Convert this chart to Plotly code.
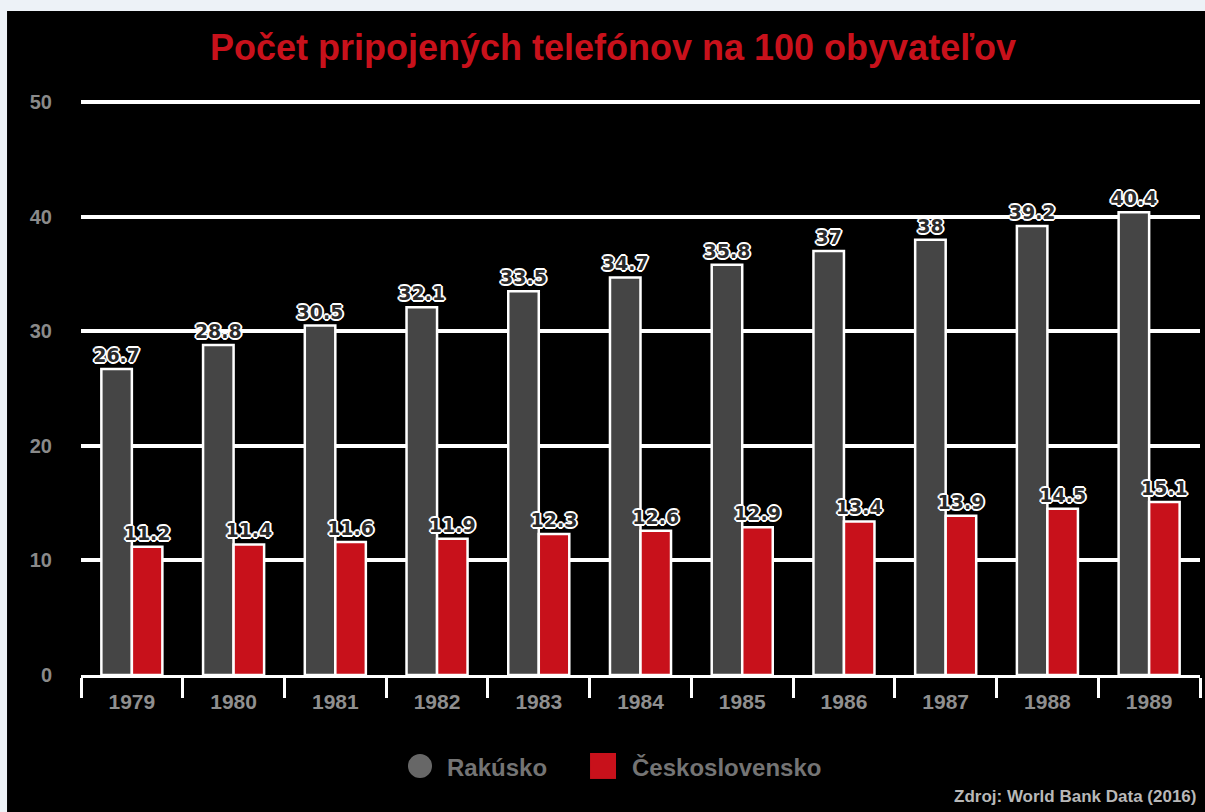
import plotly.graph_objects as go

years = ["1979", "1980", "1981", "1982", "1983", "1984", "1985", "1986", "1987", "1988", "1989"]
rakusko = [26.7, 28.8, 30.5, 32.1, 33.5, 34.7, 35.8, 37, 38, 39.2, 40.4]
cesko = [11.2, 11.4, 11.6, 11.9, 12.3, 12.6, 12.9, 13.4, 13.9, 14.5, 15.1]
series_names = ["Rakúsko", "Československo"]
title_text = "Počet pripojených telefónov na 100 obyvateľov"
source_text = "Zdroj: World Bank Data (2016)"

GRAY = "#454545"
RED = "#c8111b"
LIGHT = "#edf2f7"
FONT = "Liberation Sans"
shadow = ("1px 1px 0 #fff, -1px -1px 0 #fff, 1px -1px 0 #fff, -1px 1px 0 #fff, "
          "0 2px 0 #fff, 0 -2px 0 #fff, 2px 0 0 #fff, -2px 0 0 #fff")

fig = go.Figure()
for name, vals, col in [(series_names[0], rakusko, GRAY), (series_names[1], cesko, RED)]:
    fig.add_trace(go.Bar(
        x=years, y=vals, name=name, showlegend=False,
        marker=dict(color=col, line=dict(color="white", width=2.5)),
        text=[f"{v:g}" for v in vals], textposition="outside",
        constraintext="none", cliponaxis=False,
        textfont=dict(family="DejaVu Sans", size=19, weight="bold", color="#2a2a2a", shadow=shadow),
    ))

# black chart panel
fig.add_shape(type="rect", xref="paper", yref="paper",
              x0=-0.0661, x1=1.02, y0=-0.3, y1=1.1568,
              fillcolor="black", line=dict(width=0), layer="below")

# manual legend
fig.add_shape(type="circle", xref="paper", yref="paper",
              x0=0.2922, x1=0.3137, y0=-0.1794, y1=-0.1376,
              fillcolor="#676767", line=dict(width=0))
fig.add_shape(type="rect", xref="paper", yref="paper",
              x0=0.4549, x1=0.4781, y0=-0.1811, y1=-0.1359,
              fillcolor=RED, line=dict(width=0))
for name, xpos in [(series_names[0], 0.3253), (series_names[1], 0.4906)]:
    fig.add_annotation(text=name, xref="paper", yref="paper", x=xpos, y=-0.162,
                       xanchor="left", yanchor="middle", showarrow=False,
                       font=dict(family=FONT, size=24, weight="bold", color="#747474"))

fig.add_annotation(text=source_text, xref="paper", yref="paper", x=0.998, y=-0.211,
                   xanchor="right", yanchor="middle", showarrow=False,
                   font=dict(family=FONT, size=17, weight="bold", color="#b8b8b8"))

fig.update_layout(
    width=1205, height=812,
    margin=dict(l=81, r=5, t=101, b=137),
    paper_bgcolor=LIGHT, plot_bgcolor="rgba(0,0,0,0)",
    barmode="group", bargap=0.4, bargroupgap=0.0,
    showlegend=False,
    title=dict(text=title_text, xref="container", x=613 / 1205, xanchor="center",
               yref="container", y=1 - 47 / 812, yanchor="middle",
               font=dict(family=FONT, size=36, weight="bold", color=RED)),
    xaxis=dict(type="category", showgrid=False, showline=True, linecolor="white", linewidth=3,
               ticks="outside", tickson="boundaries", ticklen=20, tickwidth=3, tickcolor="white",
               ticklabelstandoff=6,
               tickfont=dict(family=FONT, size=21, weight="bold", color="#8f8f8f"),
               fixedrange=True),
    yaxis=dict(range=[0, 50.1], tickvals=[0, 10, 20, 30, 40, 50], showgrid=True,
               gridcolor="white", gridwidth=4, zeroline=False, showline=False,
               ticks="outside", ticklen=24, tickcolor="rgba(0,0,0,0)",
               tickfont=dict(family=FONT, size=20, weight="bold", color="#8a8a8a")),
)

fig.write_html("out.html", config={"displayModeBar": False},
               post_script="document.body.style.margin='0';document.body.style.background='%s';" % LIGHT)
